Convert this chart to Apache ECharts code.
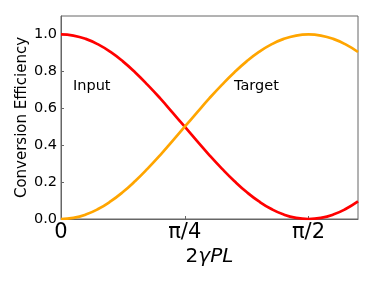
<!DOCTYPE html>
<html>
<head>
<meta charset="utf-8">
<script src="https://cdn.jsdelivr.net/npm/echarts@6/dist/echarts.min.js"></script>
<style>html,body{margin:0;padding:0;background:#fff}#c{width:374px;height:281px}</style>
</head>
<body>
<div id="c"></div>
<script>
// x in units of pi/4 (2*gamma*P*L)
const xValues = [0,0.1,0.2,0.3,0.4,0.5,0.6,0.7,0.8,0.9,1.0,1.1,1.2,1.3,1.4,1.5,1.6,1.7,1.8,1.9,2.0,2.1,2.2,2.3,2.4];
const inputValues = [1.000,0.994,0.976,0.946,0.905,0.854,0.794,0.727,0.655,0.578,0.500,0.422,0.345,0.273,0.206,0.146,0.095,0.054,0.024,0.006,0.000,0.006,0.024,0.054,0.095];
const targetValues = [0.000,0.006,0.024,0.054,0.095,0.146,0.206,0.273,0.345,0.422,0.500,0.578,0.655,0.727,0.794,0.854,0.905,0.946,0.976,0.994,1.000,0.994,0.976,0.946,0.905];
const xTickLabels = ['0','π/4','π/2'];
const yTicks = [0.0,0.2,0.4,0.6,0.8,1.0];

const font = 'DejaVu Sans';
const chart = echarts.init(document.getElementById('c'), null, {renderer:'canvas'});
chart.setOption({
  animation:false,
  grid:{left:61,right:16,top:16,bottom:62,show:true,borderColor:'#666',borderWidth:1,containLabel:false},
  xAxis:{
    type:'value',min:0,max:2.4,interval:1,
    name:'{n|2}{i|γPL}',nameLocation:'middle',nameGap:28,nameMoveOverlap:false,
    nameTextStyle:{rich:{n:{fontFamily:font,fontSize:20,color:'#000'},i:{fontFamily:font,fontSize:20,fontStyle:'italic',color:'#000'}}},
    axisLine:{show:true,lineStyle:{color:'#666',width:1}},
    axisTick:{show:true,inside:true,length:3,lineStyle:{color:'#666'}},
    splitLine:{show:false},
    axisLabel:{fontFamily:font,fontSize:21,color:'#000',margin:3,showMaxLabel:false,
      formatter:function(v){const i=Math.round(v);return Math.abs(v-i)<1e-6&&i<xTickLabels.length?xTickLabels[i]:'';}}
  },
  yAxis:{
    type:'value',min:0,max:1.1,interval:0.2,
    name:'Conversion Efficiency',nameLocation:'middle',nameGap:31,nameRotate:90,nameMoveOverlap:false,
    nameTextStyle:{fontFamily:font,fontSize:15,color:'#000'},
    axisLine:{show:true,lineStyle:{color:'#666',width:1}},
    axisTick:{show:true,inside:true,length:3,lineStyle:{color:'#666'}},
    splitLine:{show:false},
    axisLabel:{fontFamily:font,fontSize:14.5,color:'#000',margin:4,showMaxLabel:false,
      formatter:function(v){for(const t of yTicks){if(Math.abs(v-t)<1e-6)return t.toFixed(1);}return '';}}
  },
  graphic:[
    {type:'text',left:73,top:79,style:{text:'Input',fontFamily:font,fontSize:14.5,fill:'#000'}},
    {type:'text',left:234,top:79,style:{text:'Target',fontFamily:font,fontSize:14.5,fill:'#000'}}
  ],
  series:[
    {type:'line',name:'Input',data:xValues.map((x,i)=>[x,inputValues[i]]),smooth:true,showSymbol:false,lineStyle:{color:'#ff0000',width:2.7},clip:true},
    {type:'line',name:'Target',data:xValues.map((x,i)=>[x,targetValues[i]]),smooth:true,showSymbol:false,lineStyle:{color:'#ffa500',width:2.7},clip:true}
  ]
});
</script>
</body>
</html>
